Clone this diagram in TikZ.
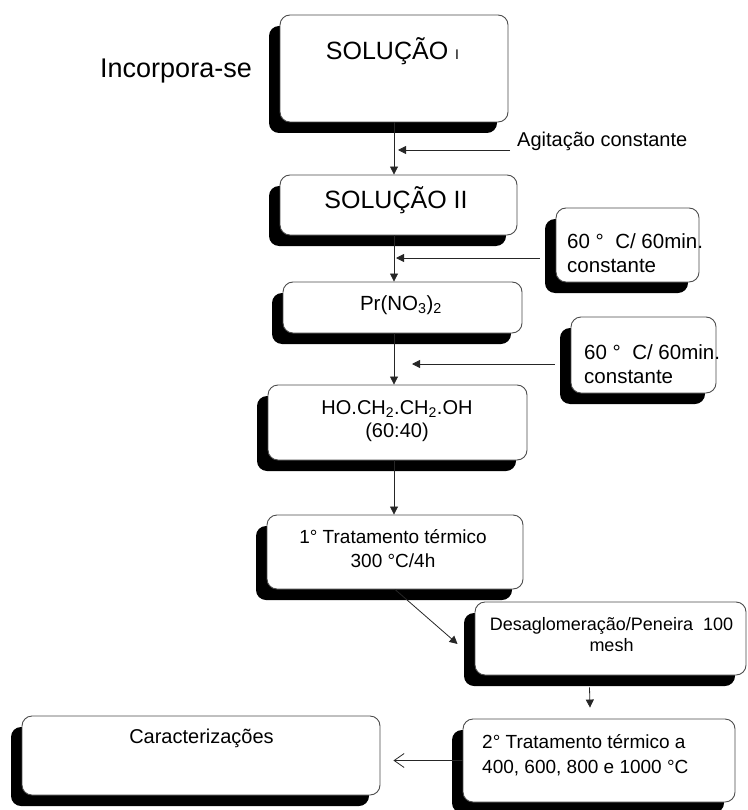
\documentclass[tikz,border=0pt]{standalone}
\usepackage{fontspec}
\setmainfont{Liberation Sans}
\usetikzlibrary{arrows.meta,shadows,calc}
\newcommand{\sz}[2]{\fontsize{#1}{#2}\selectfont}

\begin{document}
\begin{tikzpicture}[x=1pt,y=-1pt,
  box/.style={draw=black!70,line width=0.9pt,fill=white,rounded corners=10pt,inner sep=0pt,
    drop shadow={shadow xshift=-11pt,shadow yshift=-11pt,fill=black,opacity=1}},
  flow/.style={draw=black!85,line width=0.8pt,-{Triangle[length=8pt,width=8pt]}},
  txt/.style={inner sep=0pt,anchor=base}]
\useasboundingbox (0,0) rectangle (747,810);
% boxes
\node[box,minimum width=228,minimum height=107] (sol1) at (394,68.5) {};
\node[box,minimum width=237,minimum height=60] (sol2) at (398.5,205) {};
\node[box,minimum width=239,minimum height=51] (pr) at (402.5,307.5) {};
\node[box,minimum width=143,minimum height=74] (cond1) at (627.5,245) {};
\node[box,minimum width=145,minimum height=76] (cond2) at (643.5,355) {};
\node[box,minimum width=259,minimum height=75] (ho) at (397.5,422.5) {};
\node[box,minimum width=256,minimum height=74] (trat1) at (395,552) {};
\node[box,minimum width=271,minimum height=73] (desag) at (610.5,638.5) {};
\node[box,minimum width=272,minimum height=83] (trat2) at (599,760.5) {};
\node[box,minimum width=358,minimum height=79] (carac) at (201,755.5) {};
% texts (multi-line: base is the last line)
\node[txt,font=\sz{27}{32}] (incorp) at (176,78) {Incorpora-se};
\node[txt,font=\sz{25}{30}] (sol1t) at (392.5,60) {SOLUÇÃO {\sz{14}{16}I}};
\node[txt,anchor=base west,font=\sz{20}{24}] (agit) at (517,147) {Agitação constante};
\node[txt,font=\sz{25}{30}] (sol2t) at (396,208) {SOLUÇÃO II};
\node[txt,anchor=base west,align=left,font=\sz{20.5}{24}] (cond1t) at (567,272) {60 ° \ C/ 60min.\\constante};
\node[txt,font=\sz{20.5}{24}] (prt) at (401,310) {Pr(NO\textsubscript{3})\textsubscript{2}};
\node[txt,anchor=base west,align=left,font=\sz{20.5}{24}] (cond2t) at (584,383) {60 ° \ C/ 60min.\\constante};
\node[txt,align=center,font=\sz{20}{23}] (hot) at (397,437) {HO.CH\textsubscript{2}.CH\textsubscript{2}.OH\\(60:40)};
\node[txt,align=center,font=\sz{19}{24}] (trat1t) at (393,567) {1° Tratamento térmico\\300 °C/4h};
\node[txt,align=center,font=\sz{18}{21}] (desagt) at (611.5,651) {Desaglomeração/Peneira\ \ 100\\mesh};
\node[txt,anchor=base west,align=left,font=\sz{19}{25}] (trat2t) at (482,773) {2° Tratamento térmico a\\400, 600, 800 e 1000 °C};
\node[txt,font=\sz{20}{24}] (caract) at (201.5,743) {Caracterizações};
% connectors
\coordinate (agitin) at ($(agit.base west)+(-7,3)$);
\coordinate (c1in) at ($(cond1.west)+(-16,13)$);
\coordinate (c2in) at ($(cond2.west)+(-16,9)$);
\draw[flow] (sol1.south) -- (sol1.south |- sol2.north);
\draw[flow] (agitin) -- ($(sol1.south |- agitin)+(4,0)$);
\draw[flow] (sol1.south |- sol2.south) -- (sol1.south |- pr.north);
\draw[flow] (c1in) -- ($(sol1.south |- c1in)+(2,0)$);
\draw[flow] (sol1.south |- pr.south) -- (sol1.south |- ho.north);
\draw[flow] (c2in) -- ($(sol1.south |- c2in)+(18,0)$);
\draw[flow] (sol1.south |- ho.south) -- (sol1.south |- trat1.north);
\draw[flow] (trat1.south) -- ($(desag.west)+(-17,5.5)$);
\draw[flow] ($(desag.south)+(-21,12)$) -- ($(trat2.north)+(-9,-11)$);
\draw[draw=black!85,line width=0.8pt,-{Straight Barb[length=10pt,width=14pt]}] (trat2.west) -- ($(carac.east |- trat2.west)+(13,0)$);
\end{tikzpicture}
\end{document}
